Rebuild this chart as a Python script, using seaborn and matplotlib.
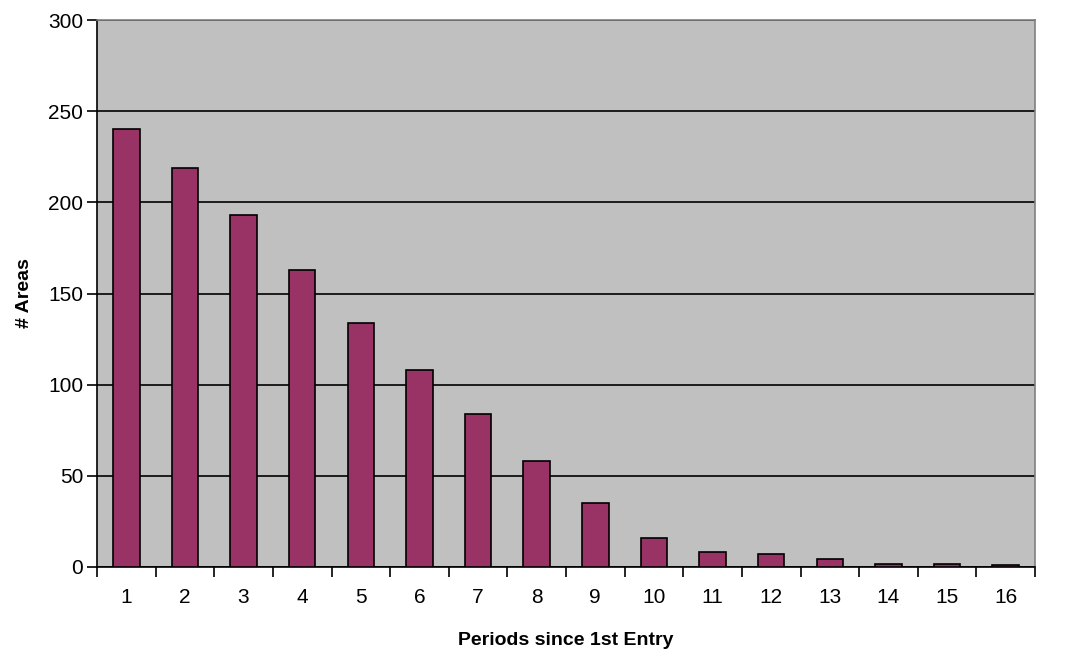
import numpy as np
import pandas as pd
import matplotlib
matplotlib.use("Agg")
import matplotlib.pyplot as plt
from matplotlib.ticker import FixedLocator
import seaborn as sns

# values
periods = [str(i) for i in range(1, 17)]
areas = [240, 219, 193, 163, 134, 108, 84, 58, 35, 16, 8.5, 7, 4.4, 1.8, 1.8, 1]
y_ticks = [0, 50, 100, 150, 200, 250, 300]

sns.set_theme(style="white")
plt.rcParams['font.family'] = ['Liberation Sans', 'DejaVu Sans']
plt.rcParams['text.color'] = 'black'
plt.rcParams['xtick.color'] = 'black'
plt.rcParams['ytick.color'] = 'black'
plt.rcParams['axes.labelcolor'] = 'black'

df = pd.DataFrame({"period": periods, "areas": areas})

fig = plt.figure(figsize=(10.75, 6.58), dpi=100)
ax = fig.add_axes([97 / 1075, (658 - 567) / 658, (1035 - 97) / 1075, (567 - 20) / 658])
ax.set_facecolor("#C0C0C0")

sns.barplot(data=df, x="period", y="areas", color="#993366", saturation=1,
            width=0.45, edgecolor="black", linewidth=1.2, ax=ax, zorder=3)

ax.set_ylim(0, 300)
ax.set_xlim(-0.5, len(periods) - 0.5)
ax.set_yticks(y_ticks)
ax.yaxis.grid(True, color="black", linewidth=1.2, zorder=0)
ax.set_axisbelow(True)

# labels centred under bars, tick marks between categories
ax.xaxis.set_minor_locator(FixedLocator(np.arange(-0.5, len(periods), 1)))
ax.tick_params(axis="x", which="major", length=0, labelsize=15, pad=15)
ax.tick_params(axis="x", which="minor", length=7, width=1.2, direction="out")
ax.tick_params(axis="y", which="major", length=7, width=1.2, direction="out",
               labelsize=15, pad=3)
ax.tick_params(bottom=True, left=True, which="both")

for side in ["left", "bottom"]:
    ax.spines[side].set_color("black")
    ax.spines[side].set_linewidth(1.2)
for side in ["top", "right"]:
    ax.spines[side].set_color("#808080")
    ax.spines[side].set_linewidth(1.2)

ax.set_xlabel("Periods since 1st Entry", fontsize=14, fontweight="bold", labelpad=18)
ax.set_ylabel("# Areas", fontsize=14, fontweight="bold", labelpad=11)

fig.savefig("out.png", dpi=100, facecolor="white")
